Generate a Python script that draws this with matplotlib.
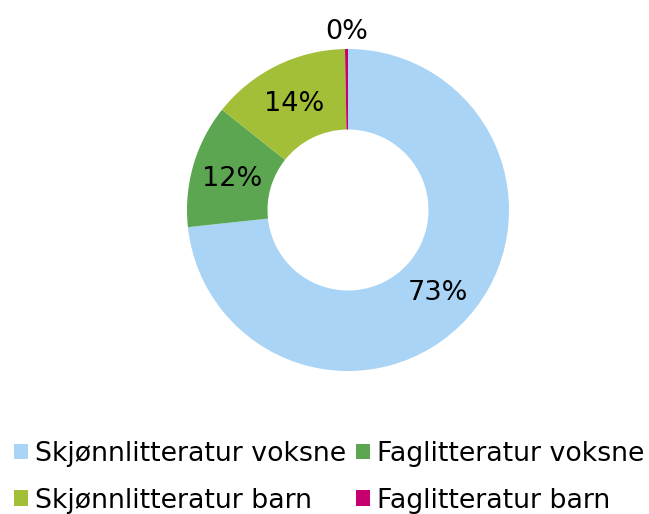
import matplotlib
matplotlib.use("Agg")
import matplotlib.pyplot as plt
from matplotlib.patches import Patch
import numpy as np

categories = ["Skjønnlitteratur voksne", "Faglitteratur voksne", "Skjønnlitteratur barn", "Faglitteratur barn"]
values = [73.3, 12.4, 14.0, 0.3]
labels = ["73%", "12%", "14%", "0%"]
colors = ["#A9D4F5", "#5CA651", "#A3BE37", "#C6006F"]

plt.rcParams['font.family'] = ['DejaVu Sans']

W, H = 649, 514
fig = plt.figure(figsize=(W/100, H/100), dpi=100)
cx, cy, R = 348, 210, 161
ax = fig.add_axes([(cx-R)/W, (H-cy-R)/H, 2*R/W, 2*R/H])
wedges, _ = ax.pie(values, colors=colors, startangle=90, counterclock=False,
                   radius=1, wedgeprops=dict(width=0.5, linewidth=0))
ax.set_xlim(-1, 1)
ax.set_ylim(-1, 1)
ax.set_aspect('equal')
ax.axis('off')

total = sum(values)
start = 90.0
for v, lab in zip(values, labels):
    ang = start - v/total*360/2
    start -= v/total*360
    r = 1.12 if v/total < 0.02 else 0.75
    ax.annotate(lab, (r*np.cos(np.radians(ang)), r*np.sin(np.radians(ang))),
                xytext=(0, -2.5), textcoords='offset pixels',
                ha='center', va='center', fontsize=19.5, color='black',
                annotation_clip=False)

order = [0, 2, 1, 3]
handles = [Patch(facecolor=colors[i], edgecolor='none') for i in order]
leg = fig.legend(handles, [categories[i] for i in order], ncol=2,
                 loc='upper left', bbox_to_anchor=(14/W, 1-441/H),
                 frameon=False, handlelength=0.53, handleheight=0.53,
                 prop=dict(family='DejaVu Sans', size=19.3),
                 handletextpad=0.25, columnspacing=0.36, labelspacing=0.77,
                 borderaxespad=0, borderpad=0)

fig.savefig("out.png", dpi=100)
